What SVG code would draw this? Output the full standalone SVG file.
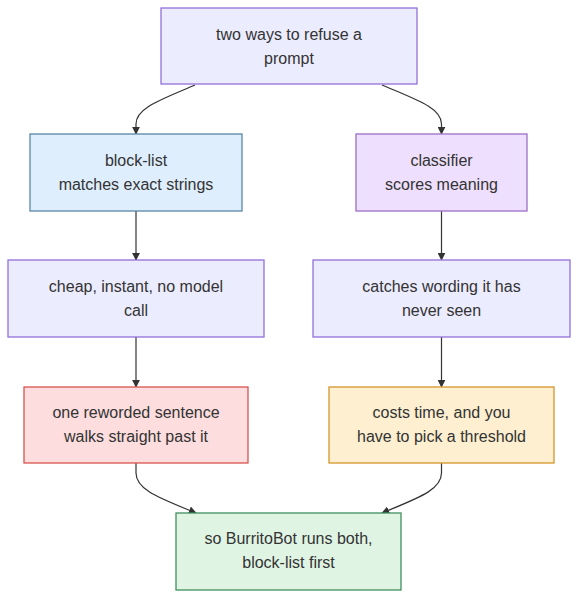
<svg xmlns="http://www.w3.org/2000/svg" width="586" height="606" viewBox="0 0 586 606">
<style>
.node rect{stroke-width:1.3}
.node text{font-family:"Liberation Sans",Arial,sans-serif;font-size:16px;fill:#333;text-anchor:middle}
.edge{fill:none;stroke:#333;stroke-width:1.2}
.default rect{fill:#ececff;stroke:#9370db}
</style>
<defs>
<marker id="arr" viewBox="0 0 10 10" refX="9" refY="5" markerWidth="8" markerHeight="8" markerUnits="userSpaceOnUse" orient="auto">
<path d="M0,0 L10,5 L0,10 z" fill="#333"/>
</marker>
</defs>
<rect width="586" height="606" fill="#fff"/>
<g id="connectors">
<path class="edge" d="M195,85 C160,100 136,108 136,124 L136,134" marker-end="url(#arr)"/>
<path class="edge" d="M382,85 C417,100 441.5,108 441.5,124 L441.5,134" marker-end="url(#arr)"/>
<path class="edge" d="M136,211 L136,260" marker-end="url(#arr)"/>
<path class="edge" d="M441.5,211 L441.5,260" marker-end="url(#arr)"/>
<path class="edge" d="M136,337 L136,387" marker-end="url(#arr)"/>
<path class="edge" d="M441.5,337 L441.5,387" marker-end="url(#arr)"/>
<path class="edge" d="M136,463 L136,473 C136,490 160,498 196,513" marker-end="url(#arr)"/>
<path class="edge" d="M441.5,463 L441.5,473 C441.5,490 418,498 382,513" marker-end="url(#arr)"/>
</g>
<g id="n_top" class="node default">
<rect x="161" y="8" width="256" height="76"/>
<text x="289" y="40">two ways to refuse a</text>
<text x="289" y="64">prompt</text>
</g>
<g id="n_blocklist" class="node">
<rect x="30" y="134" width="212" height="77" fill="#dfeefd" stroke="#5b86a6"/>
<text x="136" y="166">block-list</text>
<text x="136" y="190">matches exact strings</text>
</g>
<g id="n_classifier" class="node">
<rect x="356" y="134" width="171" height="77" fill="#eddffd" stroke="#9b6fc6"/>
<text x="441.5" y="166">classifier</text>
<text x="441.5" y="190">scores meaning</text>
</g>
<g id="n_cheap" class="node default">
<rect x="8" y="260" width="256" height="77"/>
<text x="136" y="292">cheap, instant, no model</text>
<text x="136" y="316">call</text>
</g>
<g id="n_catches" class="node default">
<rect x="313" y="260" width="257" height="77"/>
<text x="441.5" y="292">catches wording it has</text>
<text x="441.5" y="316">never seen</text>
</g>
<g id="n_reworded" class="node">
<rect x="24" y="387" width="224" height="76" fill="#fdddde" stroke="#d9534f"/>
<text x="136" y="418">one reworded sentence</text>
<text x="136" y="442">walks straight past it</text>
</g>
<g id="n_costs" class="node">
<rect x="329" y="387" width="225" height="76" fill="#feefd0" stroke="#d4962a"/>
<text x="441.5" y="418">costs time, and you</text>
<text x="441.5" y="442">have to pick a threshold</text>
</g>
<g id="n_final" class="node">
<rect x="176" y="513" width="225" height="77" fill="#e0f4e4" stroke="#3f8f5e"/>
<text x="288.5" y="544">so BurritoBot runs both,</text>
<text x="288.5" y="568">block-list first</text>
</g>
</svg>
